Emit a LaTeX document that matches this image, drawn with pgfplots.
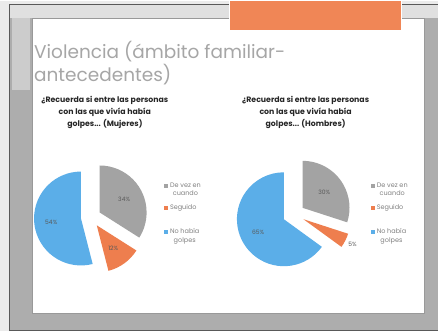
\documentclass[border=0pt]{standalone}
\usepackage{pgfplots}
\pgfplotsset{compat=1.18}
\usepackage{pgfplotstable}
\usepackage{fontspec}
\setmainfont{Poppins}
\definecolor{pgray}{HTML}{A3A3A3}
\definecolor{porange}{HTML}{EE7E4E}
\definecolor{pblue}{HTML}{5BAEE8}
\definecolor{tabrect}{HTML}{F08656}
\definecolor{framegray}{HTML}{ADADAD}
\definecolor{legtext}{HTML}{808080}

\pgfplotstableread[col sep=comma]{
label,value
De vez en cuando,34
Seguido,12
No había golpes,54
}\mujeres
\pgfplotstableread[col sep=comma]{
label,value
De vez en cuando,30
Seguido,5
No había golpes,65
}\hombres
\pgfplotstablegetelem{0}{value}\of\mujeres \edef\mA{\pgfplotsretval}%
\pgfplotstablegetelem{1}{value}\of\mujeres \edef\mB{\pgfplotsretval}%
\pgfplotstablegetelem{2}{value}\of\mujeres \edef\mC{\pgfplotsretval}%
\pgfplotstablegetelem{0}{value}\of\hombres \edef\hA{\pgfplotsretval}%
\pgfplotstablegetelem{1}{value}\of\hombres \edef\hB{\pgfplotsretval}%
\pgfplotstablegetelem{2}{value}\of\hombres \edef\hC{\pgfplotsretval}%
\pgfmathsetmacro\mS{90}%
\pgfmathsetmacro\mAe{\mS-3.6*\mA}%
\pgfmathsetmacro\mBe{\mAe-3.6*\mB}%
\pgfmathsetmacro\mCe{\mBe-3.6*\mC}%
\pgfmathsetmacro\hAe{\mS-3.6*\hA}%
\pgfmathsetmacro\hBe{\hAe-3.6*\hB}%
\pgfmathsetmacro\hCe{\hBe-3.6*\hC}%

\newcommand\slice[7]{% cx, cy, start, end, color, explode, radius
  \fill[#5] (axis cs:#1,#2) ++({(#3+#4)/2}:#6pt) -- ++(#3:#7pt) arc[start angle=#3, end angle=#4, radius=#7pt] -- cycle;}
\newcommand\plabel[6]{% cx, cy, start, end, r, text
  \path (axis cs:#1,#2) ++({(#3+#4)/2}:#5pt) node[font=\fontsize{6}{6}\selectfont, text=black!65] {#6};}
\newcommand\legmark[3]{% x,y,color
  \fill[#3] (axis cs:#1,#2) ++(-2pt,-2pt) rectangle ++(4pt,4pt);}

\begin{document}%
\begin{tikzpicture}
\begin{axis}[x=1pt, y=1pt, xmin=0, xmax=438, ymin=0, ymax=332, y dir=reverse,
  hide axis, clip=false]
% photo frame
\fill[white!92!black] (axis cs:0,0) rectangle (axis cs:438,332);
\fill[white] (axis cs:0,331) rectangle (axis cs:438,332);
\fill[framegray] (axis cs:10,4) rectangle (axis cs:438,331);
\fill[white!88!black] (axis cs:10,4) rectangle (axis cs:438,18);
\fill[white!80!black] (axis cs:12,18) rectangle (axis cs:30,90);
\draw[black!65, line width=1pt] (axis cs:10,331) -- (axis cs:10,4) -- (axis cs:438,4);
\draw[black!65, line width=1pt] (axis cs:10,330) -- (axis cs:438,330);
\fill[white] (axis cs:32,18) rectangle (axis cs:425,313);
\draw[black!40, line width=0.6pt] (axis cs:32,18) rectangle (axis cs:425,313);
\fill[tabrect] (axis cs:230,0) rectangle (axis cs:402,30);
\draw[white, line width=1pt] (axis cs:230,0) -- (axis cs:230,30) -- (axis cs:402,30) -- (axis cs:402,0);
% slide title
\node[anchor=north west, align=left, text=black!35, font=\fontsize{18.5}{23}\selectfont, inner sep=0pt]
  at (axis cs:34,41) {Violencia (ámbito familiar-\\antecedentes)};
% chart titles
\node[align=center, font=\bfseries\fontsize{7.8}{12}\selectfont, text=black!85]
  at (axis cs:105,112) {¿Recuerda si entre las personas\\con las que vivía había\\golpes... (Mujeres)};
\node[align=center, font=\bfseries\fontsize{7.8}{12}\selectfont, text=black!85]
  at (axis cs:306,112) {¿Recuerda si entre las personas\\con las que vivía había\\golpes... (Hombres)};
% Mujeres pie
\slice{91}{217}{\mS}{\mAe}{pgray}{10}{47}
\slice{91}{217}{\mAe}{\mBe}{porange}{10}{47}
\slice{91}{217}{\mBe}{\mCe}{pblue}{10}{47}
\plabel{91}{217}{\mS}{\mAe}{38}{\mA\%}
\plabel{91}{217}{\mAe}{\mBe}{38}{\mB\%}
\plabel{91}{217}{\mBe}{\mCe}{40}{\mC\%}
% Hombres pie
\slice{294}{214}{\mS}{\hAe}{pgray}{11}{47}
\slice{294}{214}{\hAe}{\hBe}{porange}{11}{47}
\slice{294}{214}{\hBe}{\hCe}{pblue}{11}{47}
\plabel{294}{214}{\mS}{\hAe}{38}{\hA\%}
\plabel{294}{214}{\hAe}{\hBe}{66}{\hB\%}
\plabel{294}{214}{\hBe}{\hCe}{40}{\hC\%}
% legends
\legmark{166}{186}{pgray}
\legmark{166}{208}{porange}
\legmark{166}{232}{pblue}
\node[anchor=north west, align=center, inner sep=0pt, text=legtext, font=\fontsize{6.5}{8.5}\selectfont] at (axis cs:170,182) {De vez en\\cuando};
\node[anchor=west, inner sep=0pt, text=legtext, font=\fontsize{6.5}{8.5}\selectfont] at (axis cs:170,208) {Seguido};
\node[anchor=north west, align=center, inner sep=0pt, text=legtext, font=\fontsize{6.5}{8.5}\selectfont] at (axis cs:170,228) {No había\\golpes};
\legmark{373}{186}{pgray}
\legmark{373}{208}{porange}
\legmark{373}{232}{pblue}
\node[anchor=north west, align=center, inner sep=0pt, text=legtext, font=\fontsize{6.5}{8.5}\selectfont] at (axis cs:377,182) {De vez en\\cuando};
\node[anchor=west, inner sep=0pt, text=legtext, font=\fontsize{6.5}{8.5}\selectfont] at (axis cs:377,208) {Seguido};
\node[anchor=north west, align=center, inner sep=0pt, text=legtext, font=\fontsize{6.5}{8.5}\selectfont] at (axis cs:377,228) {No había\\golpes};
\end{axis}
\end{tikzpicture}%
\end{document}
